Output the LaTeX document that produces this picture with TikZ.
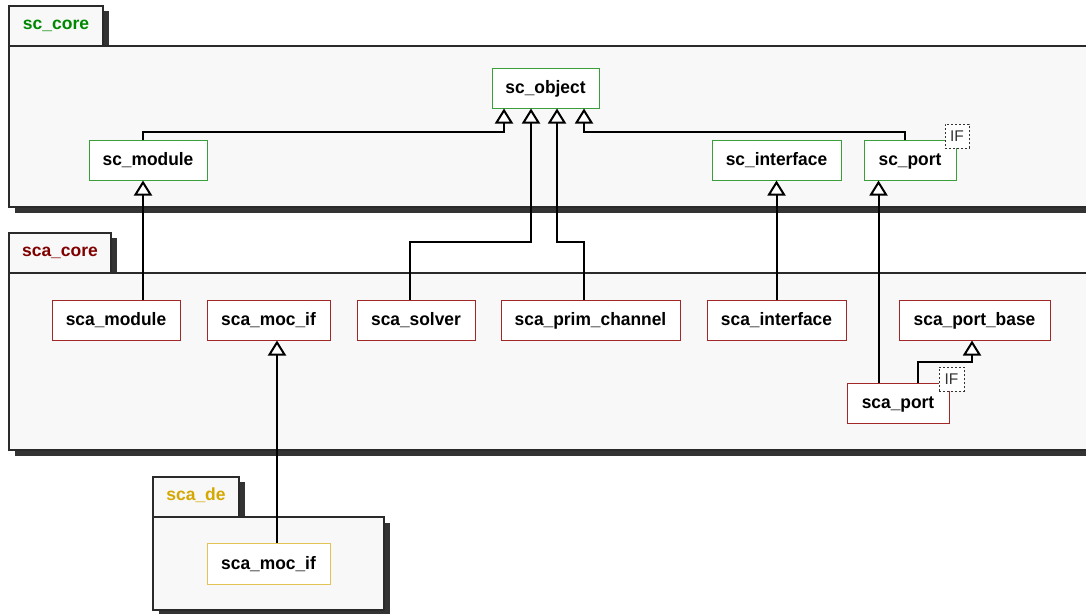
\documentclass[tikz,border=0pt]{standalone}
\usepackage{fontspec}
\setmainfont{Liberation Sans}
\newfontfamily\clsfont{Liberation Sans}[FakeStretch=0.965]
\usetikzlibrary{arrows.meta,calc}
\definecolor{pkgbg}{HTML}{F8F8F8}
\definecolor{shadowc}{HTML}{333333}
\definecolor{pkgline}{HTML}{2A2A2A}
\definecolor{scgreen}{HTML}{008800}
\definecolor{scgreenb}{HTML}{3A9E3A}
\definecolor{scared}{HTML}{800000}
\definecolor{scaredb}{HTML}{A02828}
\definecolor{degold}{HTML}{D4A800}
\definecolor{degoldb}{HTML}{E2C454}
\tikzset{
  cls/.style={draw, fill=white, line width=1pt, inner sep=0pt, minimum height=40pt,
    font=\clsfont\fontsize{18}{20}\selectfont\bfseries, text height=15pt, text depth=3.6pt},
  scc/.style={cls, draw=scgreenb},
  scac/.style={cls, draw=scaredb},
  dec/.style={cls, draw=degoldb},
  ifbox/.style={draw=shadowc, dashed, dash pattern=on 2pt off 2pt, fill=white, line width=0.8pt,
    minimum width=24pt, minimum height=24pt, inner sep=0pt, text=shadowc,
    font=\fontsize{15.5}{16}\selectfont, text height=11.5pt, text depth=0pt},
  pkgtitle/.style={font=\fontsize{17.5}{20}\selectfont\bfseries, inner sep=0pt, text height=13pt, text depth=4pt},
  inh/.style={line width=2pt, -{Triangle[open, fill=white, length=15pt, width=18pt]}},
}
\newcommand{\pkg}[6]{% tab x0,y0,x1,y1 ; body x1,y1
  \fill[shadowc] (#1+6,#2+5) rectangle (#3+6,#4);
  \fill[shadowc] (#1+6,#4+6) rectangle (#5+6,#6+6);
  \draw[pkgline, fill=pkgbg, line width=1.2pt] (#1,#2) rectangle (#3,#4);
  \draw[pkgline, fill=pkgbg, line width=1.2pt] (#1,#4) rectangle (#5,#6);
}
\begin{document}
\begin{tikzpicture}[x=1pt,y=-1pt]
\useasboundingbox (0,0) rectangle (1086,613);
\clip (0,0) rectangle (1086,613);
\fill[white] (0,0) rectangle (1086,613);

% packages
\pkg{9}{6}{103}{46}{1110}{207}
\node[pkgtitle, text=scgreen] (tsccore) at (56,25) {sc\_core};
\pkg{9}{233}{111}{273}{1110}{450}
\node[pkgtitle, text=scared] (tscacore) at (60,252) {sca\_core};
\pkg{153}{477}{239}{517}{384}{610}
\node[pkgtitle, text=degold] (tscade) at (196,496) {sca\_de};

% sc_core classes
\node[scc, minimum width=107pt] (scobj) at (545.5,88) {sc\_object};
\node[scc, minimum width=118pt] (scmod) at (148,160) {sc\_module};
\node[scc, minimum width=129pt] (scif) at (776.5,160) {sc\_interface};
\node[scc, minimum width=92pt] (scport) at (910,160) {sc\_port};
\node[ifbox] (scportif) at (957,136) {IF};

% sca_core classes
\node[scac, minimum width=128pt] (scamod) at (116,320) {sca\_module};
\node[scac, minimum width=123pt] (scamoc) at (268.5,320) {sca\_moc\_if};
\node[scac, minimum width=118pt] (scasolver) at (416,320) {sca\_solver};
\node[scac, minimum width=179pt] (scaprim) at (590.5,320) {sca\_prim\_channel};
\node[scac, minimum width=139pt] (scaif) at (776.5,320) {sca\_interface};
\node[scac, minimum width=151pt] (scaportbase) at (974.5,320) {sca\_port\_base};
\node[scac, minimum width=102pt] (scaport) at (898,403) {sca\_port};
\node[ifbox, minimum width=25pt] (scaportif) at (951.5,379) {IF};

% sca_de classes
\node[dec, minimum width=123pt, minimum height=41pt] (democ) at (268.5,563.5) {sca\_moc\_if};

% inheritance connectors
\draw[inh] ($(scamod.north)+(27,0)$) -- ($(scmod.south)+(-5,0)$);
\draw[inh] ($(scmod.north)+(-5,0)$) -- ++(0,-8) -| ($(scobj.south)+(-41.5,0)$);
\draw[inh] ($(scasolver.north)+(-6,0)$) -- ++(0,-58) -| ($(scobj.south)+(-14.5,0)$);
\draw[inh] ($(scaprim.north)+(-6.5,0)$) -- ++(0,-58) -| ($(scobj.south)+(11.5,0)$);
\draw[inh] ($(scport.north)+(-5,0)$) -- ++(0,-8) -| ($(scobj.south)+(38.5,0)$);
\draw[inh] (scaif.north) -- (scif.south);
\draw[inh] ($(scaport.north)+(-19.5,0)$) -- ($(scport.south)+(-31.5,0)$);
\draw[inh] ($(scaport.north)+(20,0)$) -- ++(0,-21) -| ($(scaportbase.south)+(-2.5,0)$);
\draw[inh] ($(democ.north)+(8.5,0)$) -- ($(scamoc.south)+(8.5,0)$);
\end{tikzpicture}
\end{document}
